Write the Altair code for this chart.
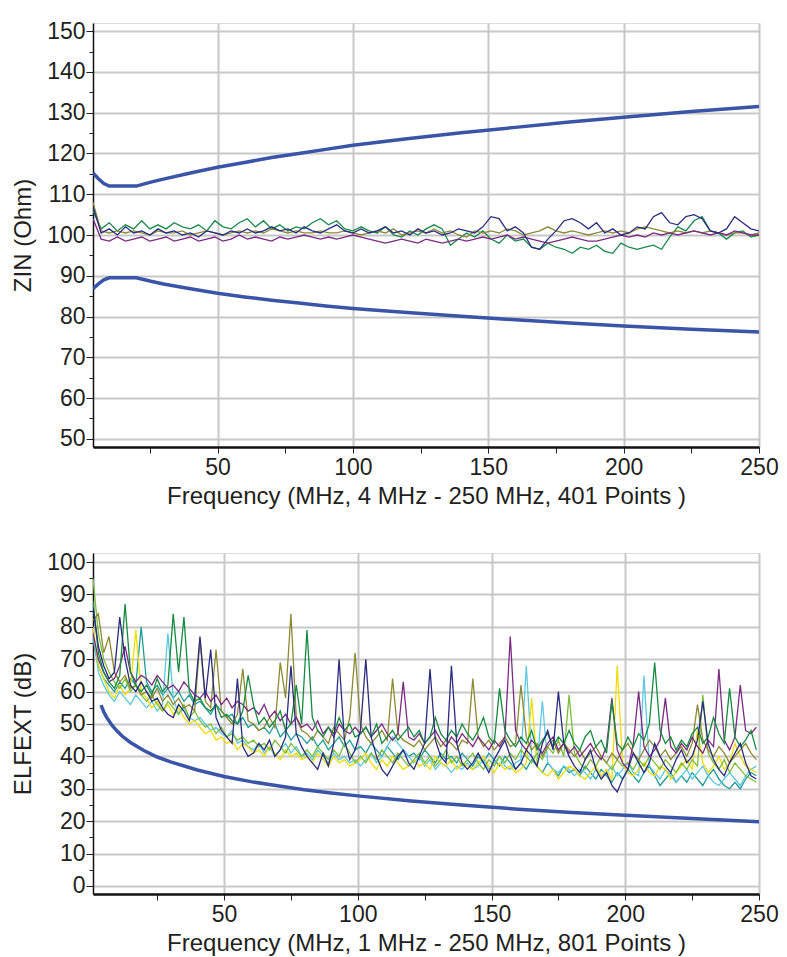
import altair as alt
import pandas as pd

# ---------------- Top panel: ZIN (Ohm) ----------------
ZIN_FREQ = list(range(4, 251, 3))  # 83 points

ZIN_GREEN = [
    106, 101.5, 103, 101, 102.5, 101.5, 103.5, 101.5, 102.5, 101.5,
    103, 102, 101.5, 102.5, 101, 103.5, 102, 101.5, 103, 104,
    102, 103.5, 101.5, 102.5, 101, 102, 101.5, 103, 104, 102.5,
    103.5, 101.5, 101, 102, 101, 100.5, 102, 100, 99.5, 101,
    100, 101.5, 102.5, 101.5, 97.5, 99, 100.5, 99.5, 101, 99,
    98, 100, 98.5, 99, 97, 96.5, 98, 97, 96.5, 95.5,
    97, 96.5, 97.5, 96, 95.5, 98, 97, 96.5, 97, 97.5,
    96.5, 99.5, 102, 101, 103.5, 104.5, 101, 100.5, 99, 100.5,
    101, 99.5, 100,
]
ZIN_NAVY = [
    107, 100.5, 101.5, 100, 102, 100.5, 101, 100, 101.5, 100.5,
    101, 100, 100.5, 99.5, 101, 100.5, 100, 101, 100.5, 101.5,
    100.5, 101, 102, 101, 101.5, 100.5, 102, 101, 100.5, 101.5,
    102.5, 101, 100.5, 101.5, 100.5, 101, 102, 100.5, 101, 100,
    101.5, 100.5, 101, 100, 100.5, 101.5, 101, 100.5, 102, 104.5,
    104, 101, 102, 100.5, 97, 96.5, 99, 101, 103.5, 104,
    103, 101.5, 103, 100.5, 101.5, 100, 100.5, 102, 101.5, 104.5,
    105.5, 103, 102.5, 104.5, 105, 104, 101, 100.5, 101.5, 104.5,
    103, 101.5, 101,
]
ZIN_OLIVE = [
    108, 101, 100.5, 101, 100.5, 101, 100.5, 100, 101, 100.5,
    100.5, 101, 100, 100.5, 101, 100.5, 100, 100.5, 101, 100.5,
    101, 100.5, 101.5, 101, 100.5, 101, 100.5, 100.5, 101, 100.5,
    100.5, 101, 100.5, 100, 100.5, 101, 100.5, 101.5, 100, 100.5,
    101, 100.5, 101.5, 100.5, 101, 100, 99.5, 101, 100.5, 101,
    100.5, 101.5, 101, 100, 100.5, 101, 102, 101, 100.5, 101,
    100.5, 100, 100.5, 101, 100.5, 101, 100.5, 101.5, 102, 101.5,
    101, 100.5, 101, 100.5, 101, 100.5, 101, 100.5, 100, 100.5,
    100.5, 100, 100.5,
]
ZIN_PURPLE = [
    104, 99, 98.5, 99.5, 98.5, 99, 99.5, 98.5, 99, 99.5,
    98.5, 99, 99.5, 98.5, 99, 99.5, 98.5, 99, 100, 99,
    99.5, 99, 98.5, 99.5, 99, 99.5, 100, 99.5, 99, 99.5,
    99, 99.5, 100, 99.5, 99, 98.5, 98, 98.5, 99, 98.5,
    98, 99, 98.5, 98, 98.5, 99, 98.5, 99, 99.5, 99,
    99.5, 100, 99, 99.5, 99, 98.5, 98, 98.5, 99, 99.5,
    99, 98.5, 98.5, 99, 99.5, 100, 99.5, 100, 99.5, 100.5,
    100, 100.5, 100, 100.5, 101, 100.5, 100, 100.5, 100, 101,
    100.5, 100, 100,
]

ZIN_LIMIT_FREQ = [4, 6, 8, 10, 15, 20, 25, 30, 40, 50, 60, 70, 80, 90, 100,
                  120, 140, 160, 180, 200, 225, 250]
ZIN_UPPER = [115.2, 113.8, 112.6, 112, 112, 112, 112.9, 113.7, 115.2, 116.6, 117.8,
             119, 120, 121, 122, 123.6, 125.1, 126.4, 127.7, 128.9, 130.3, 131.5]
ZIN_LOWER = [86.8, 88, 89, 89.5, 89.5, 89.5, 88.7, 88, 86.8, 85.7, 84.8,
             84, 83.3, 82.6, 82, 81, 80.1, 79.2, 78.4, 77.7, 76.9, 76.2]

# ---------------- Bottom panel: ELFEXT (dB) ----------------
FEXT_FREQ = list(range(1, 251, 2))  # 125 points, each row below spans 20 MHz

FEXT_NAVY = [
    86, 74, 68, 64, 66, 83, 70, 62, 60, 63,
    60, 57, 58, 55, 53, 52, 56, 54, 51, 58,
    77, 58, 73, 52, 48, 46, 44, 64, 43, 40,
    41, 44, 42, 45, 40, 42, 46, 68, 47, 43,
    40, 38, 36, 41, 37, 44, 70, 45, 39, 42,
    48, 70, 46, 40, 36, 34, 37, 40, 42, 38,
    36, 40, 44, 67, 45, 40, 38, 68, 44, 38,
    36, 38, 41, 38, 35, 39, 42, 45, 40, 36,
    38, 42, 40, 37, 44, 48, 42, 60, 44, 40,
    37, 35, 39, 42, 36, 33, 35, 31, 29, 33,
    36, 41, 38, 35, 38, 44, 40, 37, 35, 39,
    42, 38, 40, 45, 57, 44, 39, 36, 34, 38,
    41, 44, 38, 34, 33,
]
FEXT_GREEN = [
    88, 72, 66, 63, 61, 65, 87, 66, 62, 60,
    62, 59, 64, 60, 62, 84, 66, 83, 60, 57,
    58, 55, 54, 56, 52, 53, 51, 50, 54, 65,
    56, 50, 52, 49, 51, 54, 48, 50, 62, 50,
    79, 52, 48, 46, 49, 47, 52, 48, 50, 46,
    47, 49, 46, 50, 44, 46, 48, 45, 47, 49,
    46, 48, 44, 46, 52, 47, 45, 48, 46, 50,
    47, 45, 48, 52, 46, 44, 61, 48, 45, 43,
    46, 44, 48, 42, 45, 47, 43, 46, 44, 48,
    44, 42, 46, 48, 43, 45, 41, 57, 44, 42,
    46, 43, 47, 45, 50, 69, 48, 44, 46, 42,
    45, 43, 47, 49, 44, 46, 52, 47, 44, 61,
    46, 43, 45, 48, 42,
]
FEXT_OLIVE = [
    82, 84, 72, 77, 66, 63, 65, 61, 62, 59,
    60, 58, 61, 57, 59, 56, 58, 55, 56, 54,
    76, 57, 55, 73, 54, 52, 50, 53, 67, 51,
    50, 48, 49, 52, 49, 69, 58, 84, 52, 48,
    47, 45, 48, 46, 44, 49, 47, 45, 52, 72,
    50, 46, 44, 46, 48, 45, 64, 47, 45, 44,
    43, 45, 42, 44, 46, 43, 45, 44, 42, 45,
    44, 64, 46, 43, 45, 42, 44, 46, 43, 44,
    62, 46, 42, 44, 40, 43, 45, 41, 44, 42,
    40, 42, 39, 41, 43, 40, 38, 41, 39, 42,
    44, 41, 39, 42, 45, 43, 40, 42, 39, 41,
    43, 40, 44, 56, 45, 42, 40, 43, 41, 38,
    40, 42, 44, 41, 39,
]
FEXT_PURPLE = [
    78, 70, 66, 63, 64, 68, 74, 66, 63, 65,
    64, 62, 65, 63, 61, 62, 60, 63, 61, 59,
    58, 60, 57, 59, 56, 58, 55, 57, 56, 54,
    55, 53, 56, 52, 54, 51, 53, 50, 52, 49,
    50, 48, 51, 47, 49, 46, 50, 48, 47, 49,
    47, 49, 46, 48, 50, 47, 45, 47, 63, 46,
    45, 47, 44, 46, 48, 45, 43, 46, 44, 47,
    45, 43, 46, 44, 42, 45, 43, 46, 77, 48,
    44, 42, 45, 43, 41, 44, 46, 42, 44, 41,
    43, 40, 42, 44, 41, 39, 43, 58, 42, 38,
    36, 44, 60, 43, 40, 42, 45, 58, 43, 41,
    44, 42, 46, 43, 41, 45, 43, 67, 45, 42,
    46, 62, 48, 47, 49,
]
FEXT_YELLOW = [
    80, 68, 64, 60, 58, 62, 59, 61, 79, 60,
    58, 55, 57, 54, 56, 53, 55, 52, 50, 51,
    49, 47, 48, 45, 46, 44, 45, 42, 44, 43,
    41, 42, 40, 43, 41, 39, 42, 40, 41, 39,
    40, 38, 41, 39, 37, 40, 38, 39, 37, 38,
    39, 41, 38, 36, 39, 37, 40, 38, 36, 37,
    39, 37, 38, 36, 40, 38, 37, 39, 36, 38,
    37, 36, 38, 40, 37, 35, 38, 36, 37, 35,
    36, 38, 58, 37, 35, 34, 36, 33, 35, 37,
    36, 34, 33, 35, 37, 34, 36, 33, 68, 38,
    35, 34, 36, 38, 35, 34, 37, 36, 33, 35,
    37, 39, 36, 48, 38, 35, 37, 40, 36, 38,
    44, 40, 37, 36, 35,
]
FEXT_CYAN = [
    78, 66, 62, 59, 57, 60, 58, 56, 59, 57,
    55, 57, 54, 56, 78, 58, 53, 55, 52, 51,
    52, 50, 48, 49, 47, 46, 48, 44, 45, 43,
    42, 44, 41, 43, 40, 42, 44, 41, 43, 40,
    41, 39, 42, 40, 38, 41, 39, 40, 38, 39,
    37, 39, 41, 38, 40, 43, 46, 44, 42, 40,
    38, 40, 37, 39, 36, 38, 37, 35, 37, 36,
    38, 36, 37, 39, 36, 38, 40, 37, 36, 38,
    39, 68, 40, 37, 57, 38, 36, 35, 37, 36,
    34, 36, 35, 33, 36, 34, 35, 37, 34, 36,
    38, 35, 34, 65, 37, 35, 33, 36, 34, 32,
    34, 36, 33, 35, 37, 34, 32, 31, 33, 35,
    33, 31, 34, 36, 37,
]
FEXT_TEAL = [
    76, 68, 64, 62, 60, 63, 61, 64, 62, 80,
    63, 60, 62, 59, 61, 58, 60, 57, 59, 56,
    57, 55, 53, 56, 54, 52, 53, 50, 52, 49,
    50, 48, 49, 47, 50, 46, 48, 45, 47, 46,
    44, 46, 43, 45, 42, 44, 46, 43, 45, 42,
    43, 41, 44, 42, 40, 43, 41, 39, 42, 40,
    41, 39, 42, 40, 38, 41, 39, 40, 38, 41,
    39, 37, 40, 38, 41, 39, 37, 40, 38, 36,
    38, 36, 39, 37, 35, 38, 36, 34, 37, 35,
    36, 34, 37, 35, 33, 36, 34, 32, 35, 33,
    36, 34, 32, 35, 37, 34, 31, 33, 35, 32,
    34, 32, 35, 33, 31, 34, 36, 33, 31, 30,
    32, 30, 33, 35, 34,
]
FEXT_LIME = [
    95, 78, 70, 66, 63, 61, 64, 60, 62, 59,
    57, 59, 56, 54, 57, 55, 53, 56, 52, 54,
    51, 49, 50, 47, 49, 46, 47, 45, 46, 44,
    45, 43, 44, 42, 45, 43, 41, 44, 42, 40,
    42, 40, 43, 41, 39, 42, 40, 44, 41, 38,
    40, 38, 41, 39, 42, 40, 38, 41, 39, 37,
    39, 41, 38, 40, 37, 39, 42, 38, 40, 37,
    39, 41, 38, 36, 39, 37, 40, 38, 41, 39,
    42, 40, 38, 41, 39, 43, 41, 45, 40, 59,
    41, 38, 36, 39, 37, 40, 38, 36, 39, 37,
    38, 36, 39, 37, 40, 38, 36, 39, 37, 35,
    38, 36, 39, 37, 59, 41, 38, 36, 39, 35,
    38, 36, 34, 33, 32,
]

FEXT_LIMIT_FREQ = [4, 5, 6, 8, 10, 12, 15, 20, 25, 30, 40, 50, 60, 70, 80, 90, 100,
                   120, 140, 160, 180, 200, 225, 250]
FEXT_LIMIT = [55.8, 53.8, 52.2, 49.7, 47.8, 46.2, 44.3, 41.8, 39.8, 38.3, 35.8, 33.8,
              32.2, 30.9, 29.7, 28.7, 27.8, 26.2, 24.9, 23.7, 22.7, 21.8, 20.8, 19.8]

LIMIT_COLOR = "#3a54a8"
TEXT_COLOR = "#231f20"

# ---------------- build tables ----------------
def long_table(freq, series):
    rows = []
    for name, vals in series:
        for f, v in zip(freq, vals):
            rows.append({"f": f, "v": v, "s": name})
    return pd.DataFrame(rows)

zin_series = [("green", ZIN_GREEN), ("olive", ZIN_OLIVE), ("purple", ZIN_PURPLE), ("navy", ZIN_NAVY)]
zin_colors = {"green": "#18894a", "olive": "#8c8a3a", "purple": "#7b2a84", "navy": "#2a2e80"}
zin_df = long_table(ZIN_FREQ, zin_series)
zin_lim = long_table(ZIN_LIMIT_FREQ, [("upper", ZIN_UPPER), ("lower", ZIN_LOWER)])

fext_series = [("teal", FEXT_TEAL), ("cyan", FEXT_CYAN), ("yellow", FEXT_YELLOW), ("lime", FEXT_LIME),
               ("olive", FEXT_OLIVE), ("purple", FEXT_PURPLE), ("green", FEXT_GREEN), ("navy", FEXT_NAVY)]
fext_colors = {"teal": "#1f9c98", "cyan": "#5ec8e0", "yellow": "#f0dc00", "lime": "#7cbd3c",
               "olive": "#8c8a32", "purple": "#7b2a82", "green": "#168a40", "navy": "#2a2c7e"}
fext_df = long_table(FEXT_FREQ, fext_series)
fext_lim = pd.DataFrame({"f": FEXT_LIMIT_FREQ, "v": FEXT_LIMIT})

# ---------------- axes ----------------
LABEL_SIZE = 23
TITLE_SIZE = 24


def x_axis(title):
    major = "datum.value % 50 === 0"
    return alt.Axis(
        title=title, values=list(range(25, 251, 25)),
        labelExpr=f"{major} ? datum.label : ''",
        gridOpacity={"condition": {"test": major, "value": 1}, "value": 0},
        labelFontSize={"condition": {"test": major, "value": LABEL_SIZE}, "value": 0},
        grid=True, gridColor="#c8c8c8", gridWidth=2,
        domainColor="#111111", domainWidth=2.5,
        tickColor="#222222", tickSize=6, tickWidth=1,
        labelFont="Liberation Sans", labelColor=TEXT_COLOR,
        labelPadding=3, labelFlush=False, labelOverlap=False,
        titleFont="Liberation Sans", titleFontSize=TITLE_SIZE, titleFontWeight="normal",
        titleColor=TEXT_COLOR, titlePadding=5,
    )


def y_axis(title, values, step):
    major = f"datum.value % {step} === 0"
    return alt.Axis(
        title=title, values=values,
        labelExpr=f"{major} ? datum.label : ''",
        gridOpacity={"condition": {"test": major, "value": 1}, "value": 0},
        tickSize={"condition": {"test": major, "value": 7}, "value": 4},
        labelFontSize={"condition": {"test": major, "value": LABEL_SIZE}, "value": 0},
        grid=True, gridColor="#c8c8c8", gridWidth=2,
        domainColor="#111111", domainWidth=1.5,
        tickColor="#222222", tickWidth=1,
        labelFont="Liberation Sans", labelColor=TEXT_COLOR,
        labelPadding=1, labelOverlap=False, labelFlush=False,
        titleFont="Liberation Sans", titleFontSize=TITLE_SIZE, titleFontWeight="normal",
        titleColor=TEXT_COLOR, titlePadding=11,
    )


W = 666

# ---------------- top chart ----------------
zx = alt.X("f:Q", scale=alt.Scale(domain=[4, 250], nice=False, zero=False),
           axis=x_axis("Frequency (MHz, 4 MHz - 250 MHz, 401 Points )"))
zy = alt.Y("v:Q", scale=alt.Scale(domain=[48, 152], nice=False, zero=False),
           axis=y_axis("ZIN (Ohm)", list(range(50, 151, 5)), 10))

top_traces = alt.Chart(zin_df).mark_line(strokeWidth=1.3, clip=True).encode(
    x=zx, y=zy,
    color=alt.Color("s:N", scale=alt.Scale(domain=list(zin_colors.keys()), range=list(zin_colors.values())), legend=None),
)
top_lim = alt.Chart(zin_lim).mark_line(strokeWidth=3.5, color=LIMIT_COLOR, clip=True).encode(
    x=zx, y=zy, detail="s:N"
)
top = alt.layer(top_traces, top_lim).properties(width=W, height=424)

# ---------------- bottom chart ----------------
fx = alt.X("f:Q", scale=alt.Scale(domain=[1, 250], nice=False, zero=False),
           axis=x_axis("Frequency (MHz, 1 MHz - 250 MHz, 801 Points )"))
fy = alt.Y("v:Q", scale=alt.Scale(domain=[-2.5, 102.8], nice=False, zero=False),
           axis=y_axis("ELFEXT (dB)", list(range(0, 101, 5)), 10))

bot_traces = alt.Chart(fext_df).mark_line(strokeWidth=1.3, clip=True).encode(
    x=fx, y=fy,
    color=alt.Color("s:N", scale=alt.Scale(domain=list(fext_colors.keys()), range=list(fext_colors.values())), legend=None),
)
bot_lim = alt.Chart(fext_lim).mark_line(strokeWidth=3.5, color=LIMIT_COLOR, clip=True).encode(
    x=fx, y=fy
)
bottom = alt.layer(bot_traces, bot_lim).properties(width=W, height=341)

chart = alt.vconcat(top, bottom, spacing=106, bounds="flush").resolve_scale(
    x="independent", y="independent", color="independent"
).properties(
    padding={"left": 3, "top": 11, "right": 0, "bottom": 0}
).configure_view(
    stroke="#444444", strokeWidth=1.5
).configure(background="white")

chart.save("out.html", embed_options={"renderer": "svg", "actions": False})
